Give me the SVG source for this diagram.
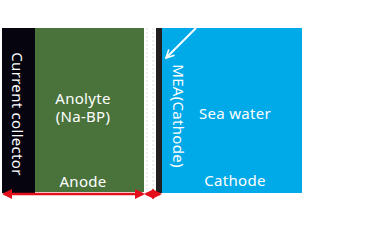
<svg xmlns="http://www.w3.org/2000/svg" width="380" height="230" viewBox="0 0 380 230">
<defs>
<style>
.t{font-family:"Noto Sans","Liberation Sans",sans-serif;font-size:15px;fill:#fff;text-anchor:middle;letter-spacing:0.3px}
.red{stroke:#e3101b;stroke-width:2.5;fill:none}
</style>
<marker id="ah" viewBox="0 0 10 10" refX="8" refY="5" markerWidth="4" markerHeight="4" orient="auto-start-reverse">
<path d="M0,0 L10,5 L0,10 Z" fill="#e3101b"/>
</marker>
<marker id="wh" viewBox="0 0 10 10" refX="9" refY="5" markerWidth="5" markerHeight="5" orient="auto">
<path d="M1,1 L9,5 L1,9" fill="none" stroke="#fff" stroke-width="1.6"/>
</marker>
</defs>
<g id="current-collector">
<rect x="2" y="28" width="33" height="165" fill="#05040f"/>
<text class="t" transform="translate(12,114) rotate(90)">Current collector</text>
</g>
<g id="anode">
<rect x="35" y="28" width="109" height="164" fill="#4a733c"/>
<text class="t" x="83" y="104">Anolyte</text>
<text class="t" x="83" y="122">(Na-BP)</text>
<text class="t" x="83" y="187">Anode</text>
</g>
<g id="membrane">
<rect x="144" y="28" width="12" height="165" fill="#fff"/>
<line x1="147" y1="28" x2="147" y2="193" stroke="#ddd" stroke-dasharray="2,2"/>
<line x1="153" y1="28" x2="153" y2="193" stroke="#ddd" stroke-dasharray="2,2"/>
</g>
<g id="mea">
<rect x="156" y="28" width="6" height="165" fill="#231f20"/>
</g>
<g id="cathode">
<rect x="162" y="28" width="140" height="165" fill="#00a9e8"/>
<text class="t" transform="translate(173,116) rotate(90)">MEA(Cathode)</text>
<text class="t" x="235" y="119">Sea water</text>
<text class="t" x="235" y="186">Cathode</text>
</g>
<g id="connectors">
<line x1="196" y1="28" x2="166" y2="58" stroke="#fff" stroke-width="2" marker-end="url(#wh)"/>
<line class="red" x1="4" y1="194" x2="143" y2="194" marker-start="url(#ah)" marker-end="url(#ah)"/>
<line class="red" x1="146" y1="194" x2="160" y2="194" marker-start="url(#ah)" marker-end="url(#ah)"/>
</g>
</svg>
